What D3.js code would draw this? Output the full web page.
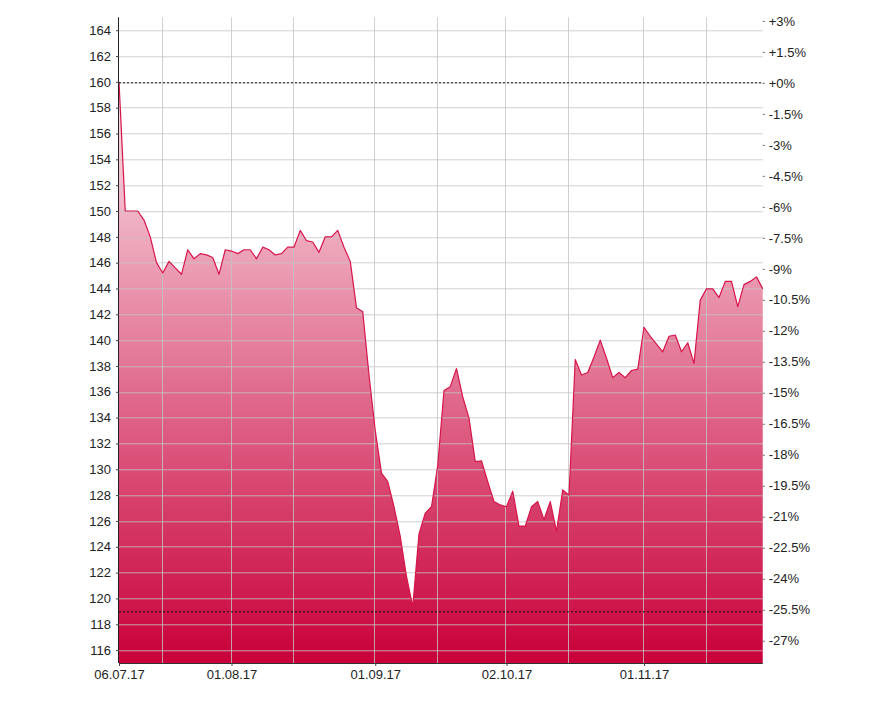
<!DOCTYPE html>
<html>
<head>
<meta charset="utf-8">
<script src="https://cdn.jsdelivr.net/npm/d3@7"></script>
<style>
  html, body { margin: 0; padding: 0; background: #ffffff; }
  svg { display: block; }
  text { font-family: "Liberation Sans", Arial, sans-serif; }
</style>
</head>
<body>
<svg id="chart" width="872" height="713"></svg>
<script>
// ---------- data ----------
// closing prices, one per trading day (06.07.17 .. 29.11.17)
const prices = [
  160.0, 150.0, 150.0, 150.0, 149.3, 148.0, 146.0, 145.2, 146.1, 145.6,
  145.1, 147.0, 146.3, 146.7, 146.6, 146.4, 145.1, 147.0, 146.9, 146.7,
  147.0, 147.0, 146.3, 147.2, 147.0, 146.6, 146.7, 147.2, 147.2, 148.5,
  147.7, 147.6, 146.8, 148.0, 148.0, 148.5, 147.2, 146.1, 142.5, 142.2,
  137.3, 133.0, 129.7, 129.05, 127.1, 124.8, 121.7, 119.36, 125.0, 126.6,
  127.1, 130.3, 136.1, 136.4, 137.8, 135.6, 133.96, 130.6, 130.65, 129.05,
  127.5, 127.24, 127.1, 128.3, 125.6, 125.6, 127.1, 127.5, 126.1, 127.5,
  125.2, 128.4, 128.0, 138.5, 137.3, 137.5, 138.7, 140.0, 138.6, 137.1,
  137.5, 137.1, 137.65, 137.76, 141.0, 140.3, 139.7, 139.1, 140.3, 140.4,
  139.1, 139.8, 138.2, 143.1, 143.97, 143.97, 143.3, 144.55, 144.55, 142.6,
  144.3, 144.55, 144.9, 143.97
];

// x-axis labels (index of the trading day they belong to)
const xLabelIndex = [0, 18, 41, 62, 84];
const xLabels = ["06.07.17", "01.08.17", "01.09.17", "02.10.17", "01.11.17"];
// vertical grid lines (trading-day index)
const xGridIndex = [7, 18, 28, 41, 51, 62, 72, 84, 94];

// left axis ticks (price)
const priceTicks = [116,118,120,122,124,126,128,130,132,134,136,138,140,142,144,146,148,150,152,154,156,158,160,162,164];
// right axis ticks (percent change vs reference)
const pctTicks = [3,1.5,0,-1.5,-3,-4.5,-6,-7.5,-9,-10.5,-12,-13.5,-15,-16.5,-18,-19.5,-21,-22.5,-24,-25.5,-27];

const refPrice = 160;   // start value (0% line)
const lowPrice = 119.0; // low marker line
const priceDomain = [115, 165];

// ---------- layout ----------
const W = 872, H = 713;
const m = { left: 119, right: 109.25, top: 17.3, bottom: 50 };
const iw = W - m.left - m.right, ih = H - m.top - m.bottom;
const FONT = '"Liberation Sans", Arial, sans-serif';
const FS = 13;

const svg = d3.select("#chart");
const g = svg.append("g").attr("transform", `translate(${m.left},${m.top})`);

const x = d3.scaleLinear().domain([0, prices.length - 1]).range([0, iw]);
const y = d3.scaleLinear().domain(priceDomain).range([ih, 0]);
const yPct = d3.scaleLinear()
  .domain(priceDomain.map(p => (p / refPrice - 1) * 100))
  .range([ih, 0]);

// gradient
const defs = svg.append("defs");
const grad = defs.append("linearGradient").attr("id", "fillGrad")
  .attr("x1", 0).attr("y1", 0).attr("x2", 0).attr("y2", 1);
grad.append("stop").attr("offset", "0%").attr("stop-color", "#fbe6ec");
grad.append("stop").attr("offset", "100%").attr("stop-color", "#c9003a");

// area
const area = d3.area()
  .x((d, i) => x(i))
  .y0(y(priceDomain[0]))
  .y1(d => y(d));
g.append("path").datum(prices)
  .attr("d", area)
  .attr("fill", "url(#fillGrad)");

// grid
const grid = g.append("g").attr("class", "grid");
grid.selectAll("line.h").data(priceTicks).enter().append("line")
  .attr("x1", 0).attr("x2", iw)
  .attr("y1", d => Math.round(y(d)) + 0.5).attr("y2", d => Math.round(y(d)) + 0.5)
  .attr("stroke", "#c4c4c4").attr("stroke-opacity", 0.8).attr("stroke-width", 1);
grid.selectAll("line.v").data(xGridIndex).enter().append("line")
  .attr("y1", 0).attr("y2", ih)
  .attr("x1", d => Math.round(x(d)) - 0.5).attr("x2", d => Math.round(x(d)) - 0.5)
  .attr("stroke", "#c4c4c4").attr("stroke-opacity", 0.8).attr("stroke-width", 1);

// line
const line = d3.line().x((d, i) => x(i)).y(d => y(d));
g.append("path").datum(prices)
  .attr("d", line)
  .attr("fill", "none")
  .attr("stroke", "#d6164a")
  .attr("stroke-width", 1.2)
  .attr("stroke-linejoin", "round");

// dotted reference lines
[refPrice, lowPrice].forEach(v => {
  g.append("line")
    .attr("x1", 0).attr("x2", iw)
    .attr("y1", Math.round(y(v)) + 0.5).attr("y2", Math.round(y(v)) + 0.5)
    .attr("stroke", "#111").attr("stroke-width", 1)
    .attr("stroke-dasharray", "2,2");
});

// left axis
const yAxis = d3.axisLeft(y).tickValues(priceTicks).tickSize(3).tickPadding(5).tickFormat(d3.format("d"));
const gy = g.append("g").call(yAxis);
gy.select(".domain").attr("stroke", "#222").attr("d", `M-0.5,0V${ih}`);
gy.selectAll(".tick line").attr("stroke", "#444");
gy.selectAll("text").attr("font-size", FS).attr("fill", "#222").style("font-family", FONT);

// right axis (percent)
const pctFmt = p => (p >= 0 ? "+" : "") + p + "%";
const yAxisR = d3.axisRight(yPct).tickValues(pctTicks).tickSize(2).tickPadding(4).tickFormat(pctFmt);
const gr = g.append("g").attr("transform", `translate(${iw},1)`).call(yAxisR);
gr.select(".domain").remove();
gr.selectAll(".tick line").attr("stroke", "#666");
gr.selectAll("text").attr("font-size", FS).attr("fill", "#222").style("font-family", FONT);

// bottom axis
const xAxis = d3.axisBottom(x).tickValues(xLabelIndex)
  .tickFormat((d, i) => xLabels[i]).tickSize(3).tickPadding(4);
const gx = g.append("g").attr("transform", `translate(0,${ih})`).call(xAxis);
gx.select(".domain").attr("stroke", "#333").attr("d", `M0,0.5H${iw}`);
gx.selectAll(".tick line").attr("stroke", "#444");
gx.selectAll("text").attr("font-size", FS).attr("fill", "#222").style("font-family", FONT);
</script>
</body>
</html>
